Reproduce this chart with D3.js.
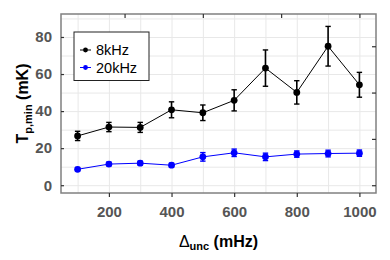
<!DOCTYPE html>
<html>
<head>
<meta charset="utf-8">
<script src="https://cdn.jsdelivr.net/npm/d3@7"></script>
<style>
  body { margin: 0; background: #fff; }
  svg { font-family: "Liberation Sans", Arial, sans-serif; }
</style>
</head>
<body>
<div class="chart"></div>
<script>
var WIDTH = 390, HEIGHT = 260;
var margin = { top: 14, right: 14, bottom: 67, left: 61 },
    width = WIDTH - margin.left - margin.right,
    height = HEIGHT - margin.top - margin.bottom;

// data
var freqs = [100, 200, 300, 400, 500, 600, 700, 800, 900, 1000];
var t8k = [26.6, 31.4, 31.2, 40.7, 39.1, 45.8, 63.2, 50.1, 75.0, 54.2];
var err8k = [2.5, 2.5, 2.7, 4.3, 4.2, 5.7, 9.8, 6.3, 10.7, 6.7];
var t20k = [8.6, 11.4, 11.9, 10.8, 15.3, 17.5, 15.3, 16.8, 17.1, 17.3];
var err20k = [0.9, 1.0, 1.0, 1.0, 2.3, 2.0, 2.0, 1.7, 1.8, 1.7];
var seriesNames = ["8kHz", "20kHz"];
var seriesColors = ["#000000", "#0000ff"];
var xTicks = [200, 400, 600, 800, 1000];
var yTicks = [0, 20, 40, 60, 80];
var topTicks = [250, 500, 750, 1000];
var rightTicks = [0, 25, 50, 75];

var series = [
    { name: seriesNames[0], color: seriesColors[0], values: t8k, errs: err8k },
    { name: seriesNames[1], color: seriesColors[1], values: t20k, errs: err20k }
];

var xScale = d3.scaleLinear().domain([47, 1053]).range([0, width]);
var yScale = d3.scaleLinear().domain([-4.2, 92.4]).range([height, 0]);

var svg = d3.select('.chart').append("svg")
    .attr('width', WIDTH)
    .attr('height', HEIGHT);

var rootGroup = svg.append("g")
    .attr("transform", "translate(" + margin.left + "," + margin.top + ")");

// grid
rootGroup.append("g")
    .call(d3.axisBottom(xScale).tickValues(d3.range(100, 1001, 100)).tickSize(height).tickFormat(""))
    .call(g => g.select(".domain").remove())
    .selectAll("line").attr("stroke", "#e8e8e8");
rootGroup.append("g")
    .call(d3.axisLeft(yScale).tickValues(d3.range(0, 91, 10)).tickSize(-width).tickFormat(""))
    .call(g => g.select(".domain").remove())
    .selectAll("line").attr("stroke", "#e8e8e8");

// box
rootGroup.append("rect")
    .attr("width", width)
    .attr("height", height)
    .attr("fill", "none")
    .attr("stroke", "#808080")
    .attr("stroke-width", 1.5);

// axes
var xAxis = rootGroup.append("g")
    .attr("transform", "translate(0," + height + ")")
    .call(d3.axisBottom(xScale).tickValues(xTicks).tickFormat(d3.format("d")).tickSize(4).tickPadding(9));
var yAxis = rootGroup.append("g")
    .call(d3.axisLeft(yScale).tickValues(yTicks).tickSize(-3).tickPadding(9));
var topAxis = rootGroup.append("g")
    .call(d3.axisTop(xScale).tickValues(topTicks).tickSize(-4).tickFormat(""));
var rightAxis = rootGroup.append("g")
    .attr("transform", "translate(" + width + ",0)")
    .call(d3.axisRight(yScale).tickValues(rightTicks).tickSize(-4).tickFormat(""));

[xAxis, yAxis, topAxis, rightAxis].forEach(function (a) {
    a.select(".domain").remove();
    a.selectAll("line").attr("stroke", "#333").attr("stroke-width", 1.2);
    a.selectAll("text")
        .style("font-size", "15px")
        .style("font-weight", "bold")
        .attr("fill", "#555");
});

// lines + error bars + points
var line = d3.line()
    .x(function (d, i) { return xScale(freqs[i]); })
    .y(function (d) { return yScale(d); });

series.forEach(function (s) {
    var g = rootGroup.append("g");
    g.append("path")
        .datum(s.values)
        .attr("d", line)
        .attr("fill", "none")
        .attr("stroke", s.color)
        .attr("stroke-width", 1);

    var bars = g.selectAll("g.err")
        .data(s.values)
        .enter()
        .append("g")
        .attr("class", "err");
    bars.append("line")
        .attr("x1", function (d, i) { return xScale(freqs[i]); })
        .attr("x2", function (d, i) { return xScale(freqs[i]); })
        .attr("y1", function (d, i) { return yScale(d - s.errs[i]); })
        .attr("y2", function (d, i) { return yScale(d + s.errs[i]); })
        .attr("stroke", s.color)
        .attr("stroke-width", 1.6);
    [-1, 1].forEach(function (sign) {
        bars.append("line")
            .attr("x1", function (d, i) { return xScale(freqs[i]) - 2.7; })
            .attr("x2", function (d, i) { return xScale(freqs[i]) + 2.7; })
            .attr("y1", function (d, i) { return yScale(d + sign * s.errs[i]); })
            .attr("y2", function (d, i) { return yScale(d + sign * s.errs[i]); })
            .attr("stroke", s.color)
            .attr("stroke-width", 1.4);
    });

    g.selectAll("circle")
        .data(s.values)
        .enter()
        .append("circle")
        .attr("cx", function (d, i) { return xScale(freqs[i]); })
        .attr("cy", function (d) { return yScale(d); })
        .attr("r", 3.4)
        .attr("fill", s.color);
});

// legend
var legend = rootGroup.append("g")
    .attr("transform", "translate(13,18)");
legend.append("rect")
    .attr("width", 75)
    .attr("height", 48.5)
    .attr("fill", "#fff")
    .attr("stroke", "#222")
    .attr("stroke-width", 1);
series.forEach(function (s, i) {
    var y = 18 + i * 17.5;
    legend.append("line")
        .attr("x1", 6).attr("x2", 17)
        .attr("y1", y).attr("y2", y)
        .attr("stroke", s.color)
        .attr("stroke-width", 1);
    legend.append("circle")
        .attr("cx", 11.5).attr("cy", y)
        .attr("r", 2.4)
        .attr("fill", s.color);
    legend.append("text")
        .attr("x", 22)
        .attr("y", y + 5)
        .style("font-size", "14.5px")
        .attr("fill", "#000")
        .text(s.name);
});

// axis titles
var xTitle = svg.append("text")
    .attr("x", margin.left + width / 2)
    .attr("y", 247)
    .attr("text-anchor", "middle")
    .style("font-size", "16px")
    .style("font-weight", "bold");
xTitle.append("tspan").style("font-weight", "normal").text("\u0394");
xTitle.append("tspan").attr("dy", 3).style("font-size", "11px").text("unc");
xTitle.append("tspan").attr("dy", -3).text(" (mHz)");

var yTitle = svg.append("text")
    .attr("transform", "translate(28," + (margin.top + height / 2) + ") rotate(-90)")
    .attr("text-anchor", "middle")
    .style("font-size", "16px")
    .style("font-weight", "bold");
yTitle.append("tspan").text("T");
yTitle.append("tspan").attr("dy", 4).style("font-size", "11px").text("p,min");
yTitle.append("tspan").attr("dy", -4).text(" (mK)");
</script>
</body>
</html>
